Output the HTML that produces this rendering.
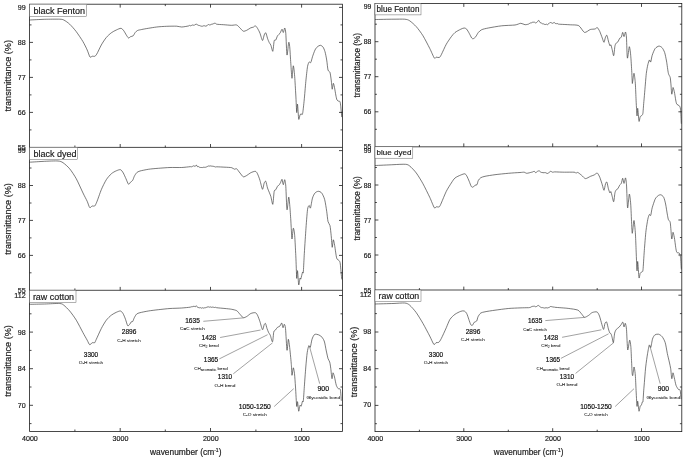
<!DOCTYPE html>
<html lang="en"><head><meta charset="utf-8"><title>FTIR spectra</title>
<style>html,body{margin:0;padding:0;background:#fff}body{width:685px;height:462px;overflow:hidden}svg{display:block}text{font-family:"Liberation Sans",Arial,sans-serif;fill:#1a1a1a;stroke:#1a1a1a;stroke-width:.18px}.ax{stroke:#1c1c1c;stroke-width:.8;fill:none;shape-rendering:auto}.tk{stroke:#1c1c1c;stroke-width:.8;fill:none}.cv{stroke:#333;stroke-width:.65;fill:none;stroke-linejoin:round;stroke-linecap:round}.ln{stroke:#444;stroke-width:.5;fill:none}.tl{font-size:7.1px}.lb{font-size:9px}.at{font-size:8.8px}.an{font-size:7.3px;fill:#111;stroke:#111;stroke-width:.2px}.as{font-size:4.3px;fill:#222;stroke:#222;stroke-width:.06px}</style></head><body>
<svg width="685" height="462" viewBox="0 0 685 462">
<rect width="685" height="462" fill="#fff"/>
<path class="cv" d="M29.7 20.0C31.6 19.9 40.8 19.4 44.7 19.3C48.6 19.2 57.2 19.1 59.7 19.2C62.2 19.3 62.5 19.4 63.8 20.0C65.1 20.6 68.1 22.7 69.7 24.2C71.3 25.7 74.6 29.4 76.3 31.7C78.0 34.0 81.6 39.3 83.0 41.7C84.4 44.1 86.3 48.0 87.2 50.0C88.1 52.0 89.3 56.2 90.0 57.0C90.7 57.8 91.6 56.3 92.2 56.2C92.8 56.1 94.1 56.6 94.7 56.3C95.3 56.0 95.8 55.7 96.7 54.2C97.6 52.7 100.1 47.2 101.3 45.0C102.5 42.8 105.0 39.1 106.3 37.5C107.6 35.9 110.0 33.8 111.3 32.8C112.6 31.8 115.0 30.6 116.3 30.0C117.6 29.4 120.0 28.2 121.0 28.3C122.0 28.4 123.1 29.9 123.8 30.8C124.5 31.7 125.7 34.1 126.3 35.0C126.9 35.9 128.0 37.8 128.5 38.0C129.0 38.2 129.9 37.0 130.5 36.7C131.1 36.4 132.6 36.3 133.2 35.8C133.8 35.3 134.6 33.2 135.2 32.5C135.8 31.8 136.7 30.9 137.5 30.5C138.3 30.1 140.3 29.8 141.7 29.5C143.1 29.2 146.4 28.6 148.3 28.3C150.2 28.0 154.3 27.3 156.7 27.0C159.1 26.7 164.1 26.4 166.7 26.3C169.3 26.2 174.8 26.1 176.7 26.2C178.6 26.3 180.2 27.0 181.7 27.0C183.2 27.0 187.3 26.2 188.3 26.0C189.3 25.8 189.1 25.4 189.4 25.4C189.6 25.4 190.1 25.8 190.4 25.8C190.7 25.8 191.2 25.6 191.4 25.5C191.7 25.4 192.1 25.0 192.5 25.0C192.9 25.0 193.8 25.4 194.2 25.3C194.6 25.2 195.0 24.7 195.2 24.5C195.5 24.4 196.0 24.2 196.3 24.2C196.6 24.2 197.0 24.6 197.3 24.7C197.6 24.9 198.0 25.2 198.3 25.3C198.6 25.4 199.1 25.4 199.4 25.5C199.6 25.6 200.1 25.8 200.4 25.9C200.7 26.0 201.2 26.2 201.4 26.2C201.7 26.3 202.2 26.3 202.5 26.2C202.8 26.1 203.3 25.9 203.6 25.8C203.9 25.8 204.4 25.7 204.7 25.8C205.0 25.8 205.5 26.2 205.8 26.2C206.1 26.2 206.6 25.9 206.9 25.7C207.2 25.4 207.7 24.6 208.0 24.5C208.3 24.4 208.7 24.6 209.0 24.7C209.3 24.8 209.6 25.1 210.0 25.0C210.4 24.9 211.3 24.3 211.7 24.2C212.1 24.1 212.6 24.1 212.9 24.0C213.3 23.9 213.9 23.4 214.2 23.3C214.5 23.2 215.1 23.2 215.4 23.3C215.8 23.4 215.7 24.0 216.7 24.2C217.7 24.4 221.4 24.6 223.3 24.7C225.2 24.8 230.0 25.3 231.7 25.3C233.4 25.3 235.6 24.6 236.7 25.0C237.8 25.4 239.1 27.2 240.0 28.0C240.9 28.8 242.4 30.9 243.3 31.2C244.2 31.5 245.7 30.7 246.7 30.3C247.7 29.9 249.9 28.2 250.8 27.8C251.7 27.4 252.7 27.5 253.3 27.2C253.9 26.9 254.8 25.7 255.3 25.8C255.8 25.9 256.9 27.3 257.5 28.3C258.1 29.3 259.4 31.7 260.0 33.3C260.6 34.9 262.0 40.3 262.5 40.5C263.0 40.7 263.8 36.0 264.2 35.0C264.6 34.0 265.4 32.4 265.8 32.8C266.2 33.2 267.1 37.0 267.5 38.3C267.9 39.6 268.8 41.6 269.2 42.5C269.6 43.4 270.3 43.9 270.8 45.0C271.3 46.1 272.4 51.8 272.8 51.3C273.2 50.8 273.8 42.3 274.2 40.8C274.6 39.3 275.4 40.6 275.8 40.0C276.2 39.4 277.0 36.7 277.5 35.8C278.0 34.9 279.4 34.2 280.0 33.3C280.6 32.4 281.6 29.3 282.0 29.2C282.4 29.1 282.9 32.7 283.3 32.5C283.7 32.3 284.4 27.9 284.7 28.0C285.0 28.1 285.5 29.8 285.8 33.3C286.1 36.8 286.6 53.8 287.0 55.0C287.4 56.2 288.3 43.6 288.7 42.5C289.1 41.4 289.4 44.0 289.7 46.7C290.0 49.4 290.5 59.2 290.8 63.3C291.1 67.4 291.7 78.0 292.0 78.3C292.3 78.6 292.9 66.0 293.3 65.8C293.7 65.6 294.4 72.9 294.7 76.7C295.0 80.5 295.5 90.3 295.8 95.0C296.1 99.7 296.5 111.3 296.7 112.5C296.9 113.7 297.2 103.3 297.5 104.2C297.8 105.1 298.4 117.8 298.7 119.2C299.0 120.6 299.7 115.7 300.0 115.0C300.3 114.3 300.9 113.7 301.2 113.7C301.5 113.7 301.8 114.9 302.0 114.7C302.2 114.5 302.5 114.4 302.8 112.5C303.1 110.6 303.8 104.0 304.2 100.0C304.6 96.0 305.4 86.0 305.8 81.7C306.2 77.4 307.1 69.3 307.5 66.7C307.9 64.1 308.8 62.5 309.2 62.0C309.6 61.5 310.4 63.2 310.8 62.5C311.2 61.8 312.0 58.3 312.5 56.7C313.0 55.1 314.4 51.3 315.0 50.0C315.6 48.7 316.8 47.3 317.5 46.7C318.2 46.1 319.6 45.3 320.3 45.3C321.0 45.3 322.4 46.2 323.0 47.0C323.6 47.8 324.5 50.0 325.0 51.7C325.5 53.4 326.3 57.6 326.7 60.0C327.1 62.4 327.6 68.4 328.0 70.0C328.4 71.6 329.6 71.2 330.0 72.5C330.4 73.8 330.9 77.8 331.2 80.0C331.5 82.2 331.9 88.8 332.2 89.2C332.5 89.6 333.0 83.5 333.3 83.3C333.6 83.1 334.2 86.0 334.5 87.5C334.8 89.0 335.5 93.4 335.8 95.0C336.1 96.6 336.6 99.2 337.0 100.0C337.4 100.8 338.3 101.0 338.7 101.2C339.1 101.4 339.7 101.0 340.0 101.7C340.3 102.4 340.6 104.8 340.8 106.7C341.0 108.7 341.6 115.4 341.7 116.7"/>
<path class="cv" d="M29.7 162.2C31.6 162.1 41.0 161.5 44.7 161.3C48.4 161.1 55.6 160.8 58.0 161.0C60.4 161.2 61.5 161.7 63.0 162.7C64.5 163.7 68.0 166.7 69.7 168.8C71.4 170.9 74.6 175.7 76.3 178.8C78.0 181.9 81.6 190.1 83.0 193.0C84.4 195.9 86.3 199.4 87.2 201.3C88.1 203.2 89.0 206.9 89.7 207.5C90.4 208.1 91.5 206.2 92.2 206.0C92.9 205.8 94.1 206.5 94.7 206.0C95.3 205.5 95.8 204.3 96.7 202.2C97.6 200.1 100.1 192.6 101.3 189.7C102.5 186.8 105.0 181.8 106.3 179.7C107.6 177.6 110.0 175.0 111.3 173.8C112.6 172.6 115.1 171.3 116.3 170.8C117.5 170.3 119.6 169.4 120.5 169.7C121.4 170.0 122.6 171.8 123.3 173.0C124.0 174.2 125.3 177.3 126.0 178.8C126.7 180.3 127.9 183.8 128.5 184.2C129.1 184.6 130.0 182.7 130.5 182.2C131.0 181.7 132.2 181.1 132.7 180.3C133.2 179.5 133.8 177.3 134.3 176.3C134.8 175.3 136.0 173.4 136.7 172.7C137.4 172.0 138.5 171.4 140.0 171.0C141.5 170.6 145.9 169.7 148.3 169.3C150.7 168.9 155.5 168.5 158.3 168.3C161.1 168.1 167.0 167.6 170.0 167.5C173.0 167.4 179.1 167.6 181.7 167.5C184.3 167.4 188.8 166.8 190.0 166.7C191.1 166.6 190.8 166.8 191.1 166.8C191.3 166.8 191.8 166.8 192.1 166.7C192.4 166.5 192.9 166.0 193.1 165.9C193.4 165.8 193.9 165.9 194.2 166.0C194.5 166.1 195.0 166.4 195.3 166.3C195.6 166.2 196.0 164.9 196.3 165.0C196.6 165.1 197.2 166.5 197.5 166.7C197.8 166.9 198.3 166.5 198.6 166.6C198.8 166.7 199.3 167.2 199.6 167.3C199.9 167.4 200.4 167.4 200.6 167.5C200.9 167.5 201.4 167.5 201.7 167.5C202.0 167.5 202.5 167.6 202.7 167.5C203.0 167.5 203.5 167.2 203.8 167.2C204.0 167.2 204.5 167.4 204.8 167.3C205.0 167.3 205.5 167.3 205.8 167.2C206.1 167.1 206.7 166.8 207.1 166.7C207.4 166.5 208.0 166.1 208.3 166.0C208.6 165.9 209.0 166.1 209.3 166.1C209.6 166.1 210.0 165.9 210.3 165.9C210.6 165.9 211.0 166.1 211.3 166.1C211.6 166.2 212.0 166.1 212.3 166.2C212.6 166.2 213.0 166.2 213.3 166.3C213.6 166.4 214.1 166.5 214.4 166.6C214.7 166.7 215.3 167.0 215.6 167.0C215.9 167.0 215.6 166.8 216.7 166.8C217.9 166.8 223.1 167.1 225.0 167.2C226.9 167.3 230.5 167.4 231.7 167.7C232.9 168.0 233.8 169.1 234.5 169.2C235.2 169.3 236.0 168.3 236.7 168.8C237.4 169.3 239.1 172.0 240.0 173.0C240.9 174.0 242.4 176.5 243.3 176.8C244.2 177.1 245.7 176.0 246.7 175.5C247.7 175.0 249.7 173.2 250.8 172.7C251.9 172.2 254.4 171.2 255.3 171.3C256.2 171.4 256.9 172.6 257.5 173.8C258.1 175.0 259.4 178.5 260.0 180.5C260.6 182.5 262.0 189.0 262.5 189.3C263.0 189.6 263.8 184.0 264.2 183.0C264.6 182.0 265.4 180.7 265.8 181.3C266.2 182.0 267.1 186.6 267.5 188.0C267.9 189.4 268.8 191.1 269.2 192.2C269.6 193.3 270.3 194.7 270.8 196.3C271.3 197.9 272.4 205.0 272.8 204.3C273.2 203.7 273.8 193.2 274.2 191.3C274.6 189.4 275.4 190.3 275.8 189.7C276.2 189.0 277.0 187.1 277.5 186.3C278.0 185.5 279.4 184.7 280.0 183.8C280.6 182.9 281.6 179.2 282.0 179.3C282.4 179.4 282.9 184.6 283.3 184.7C283.7 184.8 284.4 179.5 284.7 179.7C285.0 179.9 285.5 182.4 285.8 186.3C286.1 190.2 286.6 208.3 287.0 209.7C287.4 211.1 288.3 197.8 288.7 197.2C289.1 196.5 289.4 201.7 289.7 204.7C290.0 207.7 290.6 217.1 290.8 220.0C291.0 222.9 291.0 224.8 291.2 227.3C291.4 229.8 291.7 238.9 292.0 239.0C292.3 239.1 292.9 228.6 293.3 228.2C293.7 227.8 294.4 232.1 294.7 235.7C295.0 239.3 295.5 250.2 295.8 255.7C296.1 261.2 296.5 276.2 296.7 278.2C296.9 280.1 297.2 269.8 297.5 270.7C297.8 271.6 298.4 283.8 298.7 284.8C299.0 285.8 299.7 279.0 300.0 278.2C300.3 277.4 300.5 279.8 300.8 279.0C301.1 278.2 302.2 273.2 302.5 272.3C302.8 271.4 303.1 274.5 303.3 272.3C303.5 270.1 303.9 261.1 304.2 255.7C304.5 250.3 305.4 236.7 305.8 230.7C306.2 224.7 307.1 213.0 307.5 209.7C307.9 206.4 308.8 205.7 309.2 205.5C309.6 205.3 310.1 209.0 310.5 208.0C310.9 207.0 311.9 199.9 312.5 198.0C313.1 196.1 314.2 193.9 315.0 193.0C315.8 192.1 317.4 191.3 318.3 191.3C319.2 191.3 320.9 191.9 321.7 193.0C322.5 194.1 324.1 197.3 324.7 199.7C325.3 202.1 326.3 208.5 326.7 211.3C327.1 214.1 327.6 219.6 328.0 221.5C328.4 223.4 329.6 223.9 330.0 225.7C330.4 227.5 330.9 232.9 331.2 235.7C331.5 238.5 331.9 246.8 332.2 247.3C332.5 247.8 333.0 240.0 333.3 239.8C333.6 239.6 334.3 243.3 334.7 245.7C335.1 248.1 336.1 256.2 336.7 258.2C337.3 260.1 338.7 259.9 339.2 260.7C339.7 261.5 340.0 261.6 340.3 264.0C340.6 266.4 341.5 277.1 341.7 279.0"/>
<path class="cv" d="M29.7 304.3C31.6 304.3 40.8 304.1 44.7 304.0C48.6 303.9 57.2 303.3 59.7 303.5C62.2 303.7 62.5 304.2 63.8 305.2C65.1 306.2 68.1 309.1 69.7 311.0C71.3 312.9 74.6 317.4 76.3 320.2C78.0 323.0 81.6 330.1 83.0 332.7C84.4 335.3 86.3 338.6 87.2 340.2C88.1 341.8 89.0 344.4 89.7 344.7C90.4 345.0 91.5 343.0 92.2 342.7C92.9 342.4 94.2 343.1 94.7 342.7C95.2 342.3 95.4 341.1 96.3 339.3C97.2 337.5 100.0 331.0 101.3 328.5C102.6 326.0 105.0 321.9 106.3 320.2C107.6 318.5 110.0 316.2 111.3 315.2C112.6 314.2 115.1 312.8 116.3 312.3C117.5 311.8 119.6 310.8 120.5 311.0C121.4 311.2 122.3 312.4 123.0 313.5C123.7 314.6 124.9 317.7 125.5 319.3C126.1 320.9 127.2 325.1 127.7 325.7C128.2 326.3 129.2 324.8 129.7 324.3C130.2 323.8 130.9 322.2 131.3 321.8C131.7 321.4 132.3 322.0 132.7 321.5C133.1 321.0 133.8 318.7 134.3 317.7C134.8 316.7 136.0 314.6 136.7 314.0C137.4 313.4 138.5 313.1 140.0 312.7C141.5 312.3 145.9 311.4 148.3 311.0C150.7 310.6 155.5 310.0 158.3 309.7C161.1 309.4 167.0 308.7 170.0 308.5C173.0 308.3 179.1 308.2 181.7 308.0C184.3 307.8 188.8 307.4 190.0 307.2C191.1 307.0 190.8 306.8 191.1 306.8C191.3 306.7 191.8 306.8 192.1 306.8C192.4 306.7 192.9 306.5 193.1 306.4C193.4 306.4 193.9 306.3 194.2 306.3C194.5 306.3 195.0 306.9 195.3 306.8C195.6 306.7 196.0 305.6 196.3 305.7C196.6 305.8 197.2 307.1 197.5 307.3C197.8 307.5 198.3 307.5 198.6 307.6C198.8 307.7 199.3 307.8 199.6 307.8C199.9 307.8 200.4 307.6 200.6 307.7C200.9 307.7 201.4 308.2 201.7 308.2C202.0 308.2 202.5 307.7 202.7 307.7C203.0 307.7 203.5 308.2 203.8 308.2C204.0 308.2 204.5 307.7 204.8 307.7C205.0 307.6 205.5 307.8 205.8 307.7C206.1 307.6 206.7 307.2 207.1 307.1C207.4 306.9 208.0 306.8 208.3 306.8C208.6 306.8 209.0 307.2 209.3 307.2C209.6 307.2 210.0 306.9 210.3 306.9C210.6 306.9 211.0 307.3 211.3 307.3C211.6 307.3 212.0 307.1 212.3 307.1C212.6 307.1 213.0 307.2 213.3 307.2C213.6 307.2 214.1 307.5 214.4 307.5C214.7 307.5 215.3 307.3 215.6 307.3C215.9 307.3 215.6 307.5 216.7 307.7C217.9 307.9 223.1 308.3 225.0 308.5C226.9 308.7 230.2 309.0 231.7 309.3C233.2 309.6 235.6 310.1 236.7 310.7C237.8 311.3 239.1 313.4 240.0 314.3C240.9 315.2 242.4 317.4 243.3 317.7C244.2 318.0 245.7 317.0 246.7 316.5C247.7 316.0 249.7 314.0 250.8 313.5C251.9 313.0 254.4 312.5 255.3 312.7C256.2 312.9 256.9 314.0 257.5 315.2C258.1 316.4 259.4 319.9 260.0 321.8C260.6 323.7 262.0 329.3 262.5 329.7C263.0 330.1 263.8 325.5 264.2 324.7C264.6 323.9 265.1 323.0 265.5 323.5C265.9 324.0 266.6 327.3 267.0 328.5C267.4 329.7 268.3 331.8 268.7 332.7C269.1 333.6 269.8 334.0 270.3 335.2C270.8 336.4 272.0 342.2 272.5 341.8C273.0 341.4 273.4 333.3 273.8 331.8C274.2 330.3 274.8 330.8 275.3 330.2C275.8 329.6 276.9 327.8 277.5 327.3C278.1 326.8 279.5 326.6 280.0 326.0C280.5 325.4 281.3 322.8 281.7 323.0C282.1 323.2 282.7 327.5 283.0 327.7C283.3 327.9 284.0 324.2 284.3 324.3C284.6 324.4 285.1 325.1 285.5 328.5C285.9 331.9 286.6 348.8 287.0 350.2C287.4 351.6 288.0 339.8 288.3 339.3C288.6 338.8 289.1 342.9 289.5 346.0C289.9 349.1 291.0 360.5 291.2 363.0C291.4 365.5 291.3 363.7 291.4 365.3C291.5 366.9 291.8 375.0 292.0 375.3C292.2 375.6 293.0 368.0 293.3 367.8C293.6 367.6 294.2 371.2 294.5 373.7C294.8 376.2 295.2 382.8 295.5 387.0C295.8 391.2 296.4 404.3 296.7 406.2C297.0 408.1 297.2 401.1 297.5 401.7C297.8 402.3 298.4 410.7 298.7 411.2C299.0 411.7 299.7 405.9 300.0 405.3C300.3 404.7 300.9 406.7 301.2 406.2C301.5 405.7 302.2 401.8 302.5 401.2C302.8 400.6 303.1 402.8 303.3 401.2C303.5 399.6 303.9 393.1 304.2 388.7C304.5 384.3 305.4 371.7 305.8 367.0C306.2 362.3 306.8 355.5 307.2 352.7C307.6 349.9 308.4 346.4 308.8 345.7C309.2 345.0 309.9 348.1 310.3 347.3C310.7 346.5 311.5 340.9 312.0 339.3C312.5 337.7 313.6 335.4 314.2 334.8C314.8 334.2 315.8 334.1 316.7 334.3C317.6 334.5 319.8 335.1 320.8 336.0C321.8 336.9 323.5 339.1 324.2 341.0C324.9 342.9 325.8 348.7 326.3 351.0C326.8 353.3 327.6 357.1 328.0 358.5C328.4 359.9 329.3 360.7 329.7 362.0C330.1 363.3 330.5 366.5 330.8 368.7C331.1 370.9 331.7 378.2 332.0 378.7C332.3 379.2 332.7 373.0 333.0 372.8C333.3 372.6 334.1 375.4 334.5 377.0C334.9 378.6 335.8 383.8 336.3 385.3C336.8 386.8 337.8 388.2 338.3 388.7C338.8 389.2 339.9 388.0 340.3 389.5C340.7 391.0 341.2 398.9 341.3 400.3"/>
<rect class="ax" x="29.6" y="4.2" width="312.8" height="427.2"/>
<path class="tk" d="M29.6 7.4h3.4 M342.4 7.4h-3.4 M29.6 42.4h3.4 M342.4 42.4h-3.4 M29.6 77.4h3.4 M342.4 77.4h-3.4 M29.6 112.4h3.4 M342.4 112.4h-3.4 M29.6 24.9h1.9 M342.4 24.9h-1.9 M29.6 59.9h1.9 M342.4 59.9h-1.9 M29.6 94.9h1.9 M342.4 94.9h-1.9 M29.6 129.9h1.9 M342.4 129.9h-1.9 M120.2 147.4v-3.4 M120.2 4.2v3.4 M210.5 147.4v-3.4 M210.5 4.2v3.4 M301.6 147.4v-3.4 M301.6 4.2v3.4 M74.9 147.4v-1.9 M74.9 4.2v1.9 M165.3 147.4v-1.9 M165.3 4.2v1.9 M255.9 147.4v-1.9 M255.9 4.2v1.9"/>
<text class="tl" style="font-size:7.10px" x="25.6" y="9.9" text-anchor="end">99</text>
<text class="tl" style="font-size:7.10px" x="25.6" y="44.9" text-anchor="end">88</text>
<text class="tl" style="font-size:7.10px" x="25.6" y="79.9" text-anchor="end">77</text>
<text class="tl" style="font-size:7.10px" x="25.6" y="114.9" text-anchor="end">66</text>
<text class="tl" style="font-size:7.10px" x="25.6" y="150.0" text-anchor="end">55</text>
<text class="at" style="font-size:9.10px" transform="translate(10.7 75.8) rotate(-90)" text-anchor="middle" textLength="71.6" lengthAdjust="spacingAndGlyphs">transmittance (%)</text>
<rect x="29.6" y="4.2" width="57.1" height="12.3" fill="#fff" stroke="#555" stroke-width=".45"/>
<text class="lb" style="font-size:9.00px" x="33.5" y="13.6" textLength="51.6" lengthAdjust="spacingAndGlyphs">black Fenton</text>
<path class="ax" d="M29.6 147.4H342.4"/>
<path class="tk" d="M29.6 150.6h3.4 M342.4 150.6h-3.4 M29.6 185.5h3.4 M342.4 185.5h-3.4 M29.6 220.4h3.4 M342.4 220.4h-3.4 M29.6 255.4h3.4 M342.4 255.4h-3.4 M29.6 168.0h1.9 M342.4 168.0h-1.9 M29.6 203.0h1.9 M342.4 203.0h-1.9 M29.6 237.9h1.9 M342.4 237.9h-1.9 M29.6 272.8h1.9 M342.4 272.8h-1.9 M120.2 290.3v-3.4 M210.5 290.3v-3.4 M301.6 290.3v-3.4 M74.9 290.3v-1.9 M165.3 290.3v-1.9 M255.9 290.3v-1.9"/>
<text class="tl" style="font-size:7.10px" x="25.6" y="153.1" text-anchor="end">99</text>
<text class="tl" style="font-size:7.10px" x="25.6" y="188.1" text-anchor="end">88</text>
<text class="tl" style="font-size:7.10px" x="25.6" y="223.0" text-anchor="end">77</text>
<text class="tl" style="font-size:7.10px" x="25.6" y="257.9" text-anchor="end">66</text>
<text class="tl" style="font-size:7.10px" x="25.6" y="292.9" text-anchor="end">55</text>
<text class="at" style="font-size:9.10px" transform="translate(10.7 218.9) rotate(-90)" text-anchor="middle" textLength="71.6" lengthAdjust="spacingAndGlyphs">transmittance (%)</text>
<rect x="29.6" y="147.4" width="47.9" height="12.3" fill="#fff" stroke="#555" stroke-width=".45"/>
<text class="lb" style="font-size:9.00px" x="33.5" y="156.8" textLength="42.9" lengthAdjust="spacingAndGlyphs">black dyed</text>
<path class="ax" d="M29.6 290.3H342.4"/>
<path class="tk" d="M29.6 295.5h3.4 M342.4 295.5h-3.4 M29.6 332.1h3.4 M342.4 332.1h-3.4 M29.6 368.7h3.4 M342.4 368.7h-3.4 M29.6 405.3h3.4 M342.4 405.3h-3.4 M29.6 313.8h1.9 M342.4 313.8h-1.9 M29.6 350.4h1.9 M342.4 350.4h-1.9 M29.6 387.0h1.9 M342.4 387.0h-1.9 M29.6 423.6h1.9 M342.4 423.6h-1.9 M120.2 431.4v-3.4 M210.5 431.4v-3.4 M301.6 431.4v-3.4 M74.9 431.4v-1.9 M165.3 431.4v-1.9 M255.9 431.4v-1.9"/>
<text class="tl" style="font-size:7.10px" x="25.6" y="298.1" text-anchor="end">112</text>
<text class="tl" style="font-size:7.10px" x="25.6" y="334.7" text-anchor="end">98</text>
<text class="tl" style="font-size:7.10px" x="25.6" y="371.2" text-anchor="end">84</text>
<text class="tl" style="font-size:7.10px" x="25.6" y="407.8" text-anchor="end">70</text>
<text class="at" style="font-size:9.10px" transform="translate(10.7 360.9) rotate(-90)" text-anchor="middle" textLength="71.6" lengthAdjust="spacingAndGlyphs">transmittance (%)</text>
<rect x="29.6" y="290.3" width="46.4" height="12.3" fill="#fff" stroke="#555" stroke-width=".45"/>
<text class="lb" style="font-size:9.00px" x="32.9" y="299.7" textLength="41.2" lengthAdjust="spacingAndGlyphs">raw cotton</text>
<text class="tl" x="29.9" y="440.7" text-anchor="middle">4000</text>
<text class="tl" x="120.5" y="440.7" text-anchor="middle">3000</text>
<text class="tl" x="210.8" y="440.7" text-anchor="middle">2000</text>
<text class="tl" x="301.9" y="440.7" text-anchor="middle">1000</text>
<text class="at" style="font-size:8.4px" x="185.7" y="455.0" text-anchor="middle" textLength="71.5" lengthAdjust="spacingAndGlyphs">wavenumber (cm<tspan dy="-3.3" font-size="5">-1</tspan><tspan dy="3.3">)</tspan></text>
<path class="cv" d="M375.5 19.5C377.8 19.5 389.2 19.2 393.0 19.2C396.8 19.2 402.5 19.0 404.7 19.2C406.9 19.4 408.2 19.8 409.7 20.8C411.2 21.8 414.6 24.8 416.3 26.7C418.0 28.6 421.3 33.0 423.0 35.8C424.7 38.6 428.2 45.4 429.7 48.3C431.2 51.2 433.4 56.8 434.3 58.0C435.2 59.2 435.7 57.3 436.3 57.2C436.9 57.1 438.7 57.8 439.3 57.5C439.9 57.2 440.4 56.4 441.3 54.7C442.2 53.0 445.0 46.5 446.3 44.2C447.6 41.9 450.2 38.2 451.3 36.7C452.4 35.2 453.8 33.5 455.0 32.5C456.2 31.5 459.6 29.8 460.8 29.2C462.0 28.6 463.4 28.0 464.2 28.0C465.0 28.0 466.1 28.5 466.7 29.2C467.3 29.9 468.6 32.2 469.2 33.3C469.8 34.4 471.2 37.3 471.7 38.0C472.2 38.7 472.8 38.9 473.3 38.7C473.8 38.5 475.2 37.5 475.8 36.7C476.4 35.9 477.5 33.4 478.3 32.5C479.1 31.6 480.4 30.3 481.7 29.7C483.0 29.1 485.7 28.5 488.3 28.0C490.9 27.5 498.2 26.2 501.7 25.8C505.2 25.4 512.5 25.3 515.0 25.0C517.5 24.7 519.5 23.3 520.8 23.3C522.1 23.3 524.0 24.6 525.0 24.7C526.0 24.8 527.7 24.3 528.3 24.2C528.9 24.1 529.0 23.7 529.3 23.6C529.6 23.4 530.0 23.1 530.3 23.0C530.6 23.0 531.0 23.0 531.3 22.9C531.6 22.8 532.0 22.4 532.3 22.3C532.6 22.2 533.0 22.2 533.3 22.2C533.6 22.2 534.2 22.1 534.5 22.2C534.9 22.3 535.4 23.1 535.8 23.0C536.2 22.9 537.1 22.1 537.5 21.7C537.9 21.3 538.4 20.2 538.7 20.3C539.0 20.4 539.7 22.2 540.0 22.5C540.3 22.8 540.8 22.7 541.1 22.8C541.4 23.0 541.9 23.6 542.2 23.7C542.5 23.9 543.0 23.7 543.3 23.8C543.6 23.9 544.1 24.2 544.3 24.3C544.6 24.4 545.1 24.5 545.4 24.5C545.7 24.5 546.2 24.2 546.5 24.2C546.7 24.3 547.2 24.8 547.5 24.7C547.8 24.6 548.4 23.9 548.8 23.6C549.1 23.3 549.7 22.6 550.0 22.5C550.3 22.4 550.9 22.6 551.2 22.7C551.6 22.8 552.1 23.3 552.5 23.3C552.9 23.3 553.8 22.4 554.2 22.5C554.6 22.6 555.5 23.6 555.8 23.7C556.1 23.8 556.5 23.6 556.8 23.6C557.1 23.6 557.5 23.6 557.8 23.7C558.1 23.8 557.8 24.1 558.8 24.2C560.4 24.3 567.7 24.6 570.3 24.8C572.9 25.0 577.0 24.7 578.8 25.7C580.6 26.7 583.0 31.9 584.5 32.4C586.0 32.9 588.9 29.9 590.3 29.5C591.7 29.1 594.1 29.2 595.0 29.0C595.9 28.8 596.7 27.3 597.3 27.6C597.9 27.9 599.1 30.1 599.8 31.5C600.4 32.9 601.8 36.7 602.3 38.1C602.8 39.5 603.6 42.4 604.0 42.3C604.4 42.2 605.1 38.1 605.5 37.2C605.9 36.3 606.5 34.8 606.9 35.3C607.3 35.8 608.0 39.6 608.4 41.0C608.8 42.4 609.6 45.2 609.9 45.7C610.2 46.2 610.6 44.3 610.9 44.8C611.2 45.3 611.8 48.2 612.2 49.6C612.6 51.0 613.3 56.2 613.7 55.7C614.1 55.2 614.6 47.4 615.0 45.7C615.4 44.0 616.0 43.4 616.4 42.9C616.8 42.4 617.5 42.5 617.9 41.9C618.3 41.3 619.4 38.7 619.8 38.1C620.2 37.5 620.9 37.9 621.3 37.2C621.7 36.5 622.3 32.5 622.7 32.4C623.1 32.3 623.6 36.7 624.0 36.6C624.4 36.5 625.2 31.8 625.5 32.0C625.8 32.2 626.3 34.7 626.5 38.1C626.7 41.5 627.0 57.0 627.4 58.1C627.8 59.2 628.9 47.1 629.3 46.7C629.7 46.3 630.4 52.0 630.7 55.3C631.0 58.6 631.6 68.8 631.8 72.4C632.0 76.0 632.2 82.3 632.3 83.3C632.4 84.3 632.7 81.3 632.9 80.0C633.1 78.7 633.7 73.1 634.0 73.3C634.3 73.5 634.9 78.5 635.2 81.7C635.5 85.0 635.8 93.9 636.0 98.3C636.2 102.7 636.8 114.5 637.0 115.8C637.2 117.1 637.4 107.6 637.7 108.3C638.0 109.0 638.7 120.2 639.0 121.3C639.3 122.4 639.9 117.4 640.2 116.7C640.5 116.0 641.0 116.0 641.3 115.8C641.6 115.6 642.1 115.4 642.3 115.0C642.5 114.6 642.8 114.5 643.0 112.5C643.2 110.5 643.6 104.2 644.0 100.0C644.4 95.8 645.4 83.6 645.7 80.0C646.0 76.4 646.2 74.0 646.5 72.0C646.8 70.0 647.4 66.4 647.8 64.8C648.2 63.2 649.0 60.4 649.4 60.0C649.8 59.6 650.3 62.6 650.7 62.0C651.1 61.4 651.6 57.0 652.2 55.3C652.8 53.6 654.2 49.8 655.1 48.6C656.0 47.4 658.0 46.2 658.9 46.1C659.8 46.0 661.4 46.9 662.1 47.7C662.8 48.5 664.0 50.7 664.6 52.4C665.2 54.1 666.0 58.3 666.5 61.0C667.0 63.7 667.9 71.3 668.4 73.4C668.9 75.5 669.9 76.0 670.2 77.5C670.5 79.0 670.8 82.8 671.0 85.0C671.2 87.2 671.5 93.9 671.8 94.2C672.1 94.5 672.7 87.8 673.0 87.5C673.3 87.2 673.9 90.1 674.3 91.7C674.7 93.3 675.4 98.4 675.7 100.0C676.0 101.6 676.3 103.4 676.8 104.2C677.3 105.0 678.8 105.1 679.3 105.8C679.8 106.5 680.2 106.9 680.5 109.2C680.8 111.5 681.2 121.5 681.3 123.3"/>
<path class="cv" d="M375.5 165.5C377.8 165.4 389.1 164.9 393.0 164.7C396.9 164.5 403.3 164.1 405.5 164.3C407.7 164.5 408.3 164.9 409.7 166.0C411.1 167.1 414.6 170.7 416.3 173.0C418.0 175.3 421.3 180.7 423.0 183.8C424.7 186.9 428.2 194.1 429.7 197.2C431.2 200.3 433.4 206.5 434.3 207.7C435.2 208.9 435.7 206.9 436.3 206.8C436.9 206.7 438.7 207.3 439.3 206.8C439.9 206.3 440.4 205.0 441.3 203.0C442.2 201.0 445.0 193.9 446.3 191.3C447.6 188.7 450.2 184.7 451.3 183.0C452.4 181.3 453.8 179.0 455.0 178.0C456.2 177.0 459.5 175.5 460.8 175.0C462.1 174.5 463.9 173.7 464.7 173.8C465.5 173.9 466.1 174.8 466.7 175.8C467.3 176.8 468.6 179.9 469.2 181.3C469.8 182.7 470.7 185.5 471.2 186.3C471.7 187.1 472.5 187.3 473.0 187.2C473.5 187.1 474.5 185.5 475.0 185.2C475.5 184.9 476.6 185.3 477.0 184.7C477.4 184.1 477.8 181.4 478.3 180.5C478.8 179.6 479.9 178.2 480.8 177.7C481.7 177.2 483.2 176.7 485.0 176.3C486.8 175.9 492.0 175.1 495.0 174.7C498.0 174.3 505.1 173.6 508.3 173.3C511.6 173.0 517.9 172.6 520.0 172.5C522.1 172.4 523.3 172.1 524.2 172.2C525.1 172.3 525.7 173.3 526.7 173.3C527.7 173.3 530.9 172.4 531.7 172.2C532.5 172.0 532.6 172.0 533.0 171.8C533.3 171.7 533.8 171.2 534.2 171.3C534.6 171.4 535.4 172.7 535.8 172.7C536.2 172.7 537.1 171.5 537.5 171.3C537.9 171.1 538.8 170.7 539.2 170.8C539.6 170.9 540.5 172.0 540.8 172.2C541.1 172.4 541.6 172.4 541.8 172.5C542.1 172.5 542.6 172.5 542.9 172.6C543.2 172.6 543.7 172.8 544.0 172.8C544.2 172.8 544.7 172.5 545.0 172.5C545.3 172.5 545.8 172.8 546.1 173.0C546.4 173.1 546.9 173.3 547.2 173.4C547.5 173.4 548.0 173.5 548.3 173.3C548.6 173.1 549.2 172.2 549.5 171.9C549.9 171.7 550.4 171.3 550.8 171.3C551.2 171.3 552.1 172.1 552.5 172.2C552.9 172.3 553.4 172.1 553.8 172.0C554.1 172.0 553.8 171.9 555.0 171.9C556.4 171.9 562.0 172.2 564.5 172.2C567.0 172.2 572.6 172.1 574.1 172.2C575.6 172.3 575.5 173.1 576.0 173.1C576.5 173.1 577.2 172.2 577.9 172.5C578.6 172.8 580.7 174.6 581.7 175.4C582.7 176.2 584.4 178.5 585.5 178.6C586.6 178.7 589.2 176.9 590.3 176.4C591.4 175.9 593.2 175.4 594.1 175.0C595.0 174.6 596.6 172.8 597.3 173.1C598.0 173.4 599.1 175.8 599.8 177.3C600.4 178.8 601.8 183.2 602.3 184.9C602.8 186.6 603.6 190.4 604.0 190.3C604.4 190.2 605.1 185.1 605.5 184.0C605.9 182.9 606.5 181.5 606.9 182.1C607.3 182.7 608.0 187.3 608.4 188.7C608.8 190.1 609.6 192.5 609.9 192.9C610.2 193.3 610.6 191.1 610.9 191.6C611.2 192.1 611.8 195.1 612.2 196.4C612.6 197.7 613.3 202.2 613.7 201.7C614.1 201.2 614.6 194.2 615.0 192.6C615.4 191.0 616.0 190.2 616.4 189.7C616.8 189.2 617.5 189.3 617.9 188.7C618.3 188.1 619.4 185.6 619.8 184.9C620.2 184.2 620.9 184.3 621.3 183.4C621.7 182.5 622.3 178.3 622.7 178.3C623.1 178.3 623.6 183.5 624.0 183.4C624.4 183.3 625.2 177.7 625.5 177.9C625.8 178.1 626.2 181.0 626.5 184.9C626.8 188.8 627.2 206.6 627.6 207.8C628.0 209.0 628.9 194.6 629.3 194.1C629.7 193.6 630.4 200.2 630.7 204.0C631.0 207.8 631.4 219.3 631.6 223.1C631.8 226.9 632.0 232.4 632.2 233.2C632.4 234.0 632.7 230.7 632.9 229.0C633.1 227.3 633.7 220.3 634.0 220.5C634.3 220.7 634.9 227.2 635.2 230.7C635.5 234.2 635.8 242.1 636.0 247.3C636.2 252.5 636.8 268.9 637.0 270.7C637.2 272.5 637.4 260.6 637.7 261.5C638.0 262.4 638.7 276.3 639.0 277.8C639.3 279.3 639.9 273.9 640.2 273.2C640.5 272.5 641.0 272.5 641.3 272.3C641.6 272.1 642.1 271.8 642.3 271.5C642.5 271.2 642.7 272.5 643.0 269.8C643.3 267.1 643.9 255.8 644.3 250.7C644.7 245.6 645.5 234.8 646.0 230.7C646.5 226.6 647.4 221.4 647.8 219.3C648.2 217.2 649.0 215.0 649.4 214.5C649.8 214.0 650.3 216.3 650.7 215.4C651.1 214.5 651.6 209.9 652.2 207.8C652.8 205.7 654.4 200.8 655.1 199.2C655.8 197.6 657.2 196.4 657.9 195.8C658.6 195.2 660.0 194.6 660.8 194.8C661.6 195.0 663.1 196.1 663.7 197.3C664.3 198.5 665.1 201.6 665.6 204.0C666.1 206.4 667.1 213.3 667.5 215.4C667.9 217.5 668.1 218.9 668.5 219.8C668.9 220.7 669.9 220.9 670.2 222.3C670.5 223.7 670.8 228.5 671.0 230.7C671.2 232.9 671.5 238.8 671.8 239.0C672.1 239.2 672.7 232.5 673.0 232.3C673.3 232.1 673.9 235.4 674.3 237.3C674.7 239.2 675.4 245.4 675.7 247.3C676.0 249.2 676.3 251.5 676.8 252.3C677.3 253.1 678.8 252.5 679.3 253.2C679.8 253.8 680.2 255.2 680.5 257.3C680.8 259.4 681.2 267.5 681.3 269.0"/>
<path class="cv" d="M375.5 304.0C377.8 303.9 389.2 303.6 393.0 303.5C396.8 303.4 402.5 302.8 404.7 303.0C406.9 303.2 408.2 303.9 409.7 305.2C411.2 306.5 414.6 310.3 416.3 312.7C418.0 315.1 421.3 320.5 423.0 323.5C424.7 326.5 428.3 333.3 429.7 336.0C431.1 338.7 433.0 343.4 433.8 344.3C434.6 345.2 435.4 343.0 436.0 342.7C436.6 342.4 438.1 342.8 438.8 342.3C439.5 341.8 440.3 340.4 441.3 338.5C442.3 336.6 445.2 330.2 446.3 327.7C447.4 325.2 448.9 321.0 450.0 319.3C451.1 317.6 453.6 315.3 455.0 314.3C456.4 313.3 459.6 311.7 460.8 311.3C462.0 310.9 463.4 310.7 464.2 311.0C465.0 311.3 466.1 312.4 466.7 313.5C467.3 314.6 468.3 317.8 468.8 319.3C469.3 320.8 470.3 323.9 470.8 324.7C471.3 325.5 472.1 325.5 472.5 325.2C472.9 324.9 473.7 322.8 474.2 322.3C474.7 321.8 476.2 321.7 476.7 321.0C477.2 320.3 477.5 317.8 478.0 316.8C478.5 315.8 479.9 313.6 480.8 313.0C481.7 312.4 483.2 312.2 485.0 311.8C486.8 311.4 492.0 310.6 495.0 310.2C498.0 309.8 505.1 308.8 508.3 308.5C511.6 308.2 517.4 308.0 520.0 307.9C522.6 307.8 527.1 307.7 528.3 307.7C529.3 307.7 529.0 307.7 529.3 307.6C529.6 307.6 530.0 307.5 530.3 307.4C530.6 307.3 531.0 307.0 531.3 306.8C531.6 306.7 532.0 306.5 532.3 306.4C532.6 306.3 533.0 306.3 533.3 306.3C533.6 306.3 534.2 306.1 534.5 306.2C534.9 306.3 535.5 306.8 535.8 306.8C536.1 306.8 536.7 306.4 537.0 306.2C537.3 306.0 537.9 305.4 538.2 305.4C538.5 305.4 539.2 306.1 539.5 306.3C539.8 306.6 540.5 307.1 540.8 307.3C541.1 307.5 541.6 307.6 541.8 307.7C542.1 307.7 542.6 307.5 542.9 307.6C543.2 307.6 543.7 308.0 544.0 308.0C544.2 308.1 544.7 308.0 545.0 308.0C545.3 308.0 545.8 307.7 546.1 307.7C546.4 307.7 546.9 308.0 547.2 308.0C547.5 308.0 548.0 307.8 548.3 307.7C548.6 307.6 549.1 307.4 549.4 307.3C549.7 307.1 550.2 306.6 550.5 306.5C550.8 306.4 551.2 306.6 551.4 306.6C551.6 306.6 552.1 306.8 552.3 306.8C552.5 306.9 553.0 307.1 553.2 307.1C553.4 307.1 553.9 306.9 554.1 306.9C554.3 307.0 554.1 307.1 555.0 307.3C556.8 307.5 565.2 308.0 568.2 308.4C571.2 308.8 576.1 309.4 577.8 310.1C579.5 310.8 580.5 312.8 581.4 313.7C582.3 314.6 583.6 317.1 584.5 317.3C585.4 317.5 587.6 316.0 588.6 315.4C589.6 314.8 591.2 312.9 592.3 312.5C593.4 312.1 596.2 311.5 597.1 312.0C598.0 312.5 598.9 314.5 599.5 316.1C600.1 317.7 601.4 322.8 601.9 324.5C602.4 326.2 603.2 329.6 603.6 329.4C604.0 329.2 604.6 324.2 605.0 323.3C605.4 322.4 606.3 321.4 606.7 322.1C607.1 322.8 608.0 327.5 608.4 328.9C608.8 330.3 609.5 332.4 609.8 333.0C610.1 333.6 610.7 333.1 611.0 333.7C611.3 334.3 611.9 336.6 612.2 337.8C612.5 339.0 613.1 343.2 613.4 342.6C613.7 342.0 614.3 334.7 614.7 333.0C615.1 331.3 615.8 330.1 616.3 329.4C616.8 328.7 618.2 328.0 618.8 327.4C619.4 326.8 620.7 325.2 621.2 324.5C621.7 323.8 622.4 321.8 622.8 322.1C623.2 322.4 623.7 326.7 624.0 326.9C624.3 327.1 625.0 323.0 625.3 323.3C625.6 323.6 626.2 326.0 626.5 329.4C626.8 332.8 627.3 348.4 627.7 349.8C628.1 351.2 629.2 340.7 629.6 340.2C630.0 339.7 630.5 343.4 630.8 346.2C631.1 349.0 631.4 358.4 631.6 362.0C631.8 365.6 632.0 372.0 632.2 373.7C632.4 375.4 632.6 376.2 632.8 375.3C633.0 374.4 633.7 367.2 634.0 367.0C634.3 366.8 634.9 370.9 635.2 373.7C635.5 376.5 635.8 384.5 636.0 388.7C636.2 392.9 636.8 404.6 637.0 406.2C637.2 407.8 637.4 400.6 637.7 401.2C638.0 401.8 638.7 410.6 639.0 411.2C639.3 411.8 639.9 407.0 640.2 406.2C640.5 405.4 641.0 405.8 641.3 405.3C641.6 404.8 642.1 402.5 642.3 402.0C642.5 401.5 642.8 403.1 643.0 401.2C643.2 399.2 643.6 391.4 644.0 387.0C644.4 382.6 645.2 371.4 645.7 367.0C646.2 362.6 647.1 356.3 647.6 353.4C648.1 350.5 648.9 345.8 649.3 345.0C649.7 344.2 650.4 348.2 650.8 347.4C651.2 346.6 652.0 340.6 652.5 339.0C653.0 337.4 654.1 335.5 654.9 334.9C655.7 334.3 657.6 334.0 658.5 334.2C659.4 334.4 661.2 335.5 662.1 336.6C663.0 337.7 664.5 340.4 665.2 342.6C665.9 344.8 666.8 350.9 667.3 353.4C667.8 355.9 668.9 360.0 669.3 362.0C669.7 364.0 670.4 366.5 670.7 368.7C671.0 370.9 671.5 378.2 671.8 378.7C672.1 379.2 672.7 372.9 673.0 372.8C673.3 372.7 673.9 376.2 674.3 377.8C674.7 379.4 675.5 383.8 676.0 385.3C676.5 386.8 678.0 388.9 678.5 389.5C679.0 390.1 679.9 389.1 680.2 390.3C680.5 391.5 680.9 397.6 681.0 398.7"/>
<rect class="ax" x="375.0" y="3.5" width="306.8" height="428.1"/>
<path class="tk" d="M375.0 6.7h3.4 M681.8 6.7h-3.4 M375.0 41.7h3.4 M681.8 41.7h-3.4 M375.0 76.7h3.4 M681.8 76.7h-3.4 M375.0 111.8h3.4 M681.8 111.8h-3.4 M375.0 24.2h1.9 M681.8 24.2h-1.9 M375.0 59.2h1.9 M681.8 59.2h-1.9 M375.0 94.3h1.9 M681.8 94.3h-1.9 M375.0 129.3h1.9 M681.8 129.3h-1.9 M463.8 146.8v-3.4 M463.8 3.5v3.4 M552.7 146.8v-3.4 M552.7 3.5v3.4 M641.5 146.8v-3.4 M641.5 3.5v3.4 M419.4 146.8v-1.9 M419.4 3.5v1.9 M508.3 146.8v-1.9 M508.3 3.5v1.9 M597.2 146.8v-1.9 M597.2 3.5v1.9"/>
<text class="tl" style="font-size:6.80px" x="371.3" y="9.2" text-anchor="end">99</text>
<text class="tl" style="font-size:6.80px" x="371.3" y="44.3" text-anchor="end">88</text>
<text class="tl" style="font-size:6.80px" x="371.3" y="79.3" text-anchor="end">77</text>
<text class="tl" style="font-size:6.80px" x="371.3" y="114.3" text-anchor="end">66</text>
<text class="tl" style="font-size:6.80px" x="371.3" y="149.4" text-anchor="end">55</text>
<text class="at" style="font-size:8.18px" transform="translate(360.2 65.2) rotate(-90)" text-anchor="middle" textLength="64.4" lengthAdjust="spacingAndGlyphs">transmittance (%)</text>
<rect x="375.0" y="3.5" width="46.0" height="11.4" fill="#fff" stroke="#555" stroke-width=".45"/>
<text class="lb" style="font-size:8.15px" x="376.6" y="12.1" textLength="42.8" lengthAdjust="spacingAndGlyphs">blue Fenton</text>
<path class="ax" d="M375.0 146.8H681.8"/>
<path class="tk" d="M375.0 150.0h3.4 M681.8 150.0h-3.4 M375.0 185.0h3.4 M681.8 185.0h-3.4 M375.0 220.0h3.4 M681.8 220.0h-3.4 M375.0 255.0h3.4 M681.8 255.0h-3.4 M375.0 167.5h1.9 M681.8 167.5h-1.9 M375.0 202.5h1.9 M681.8 202.5h-1.9 M375.0 237.5h1.9 M681.8 237.5h-1.9 M375.0 272.5h1.9 M681.8 272.5h-1.9 M463.8 290.0v-3.4 M552.7 290.0v-3.4 M641.5 290.0v-3.4 M419.4 290.0v-1.9 M508.3 290.0v-1.9 M597.2 290.0v-1.9"/>
<text class="tl" style="font-size:6.80px" x="371.3" y="152.5" text-anchor="end">99</text>
<text class="tl" style="font-size:6.80px" x="371.3" y="187.5" text-anchor="end">88</text>
<text class="tl" style="font-size:6.80px" x="371.3" y="222.5" text-anchor="end">77</text>
<text class="tl" style="font-size:6.80px" x="371.3" y="257.5" text-anchor="end">66</text>
<text class="tl" style="font-size:6.80px" x="371.3" y="292.6" text-anchor="end">55</text>
<text class="at" style="font-size:8.18px" transform="translate(360.2 208.4) rotate(-90)" text-anchor="middle" textLength="64.4" lengthAdjust="spacingAndGlyphs">transmittance (%)</text>
<rect x="375.0" y="146.8" width="37.8" height="11.4" fill="#fff" stroke="#555" stroke-width=".45"/>
<text class="lb" style="font-size:8.00px" x="376.6" y="155.4" textLength="34.8" lengthAdjust="spacingAndGlyphs">blue dyed</text>
<path class="ax" d="M375.0 290.0H681.8"/>
<path class="tk" d="M375.0 295.2h3.4 M681.8 295.2h-3.4 M375.0 332.0h3.4 M681.8 332.0h-3.4 M375.0 368.7h3.4 M681.8 368.7h-3.4 M375.0 405.4h3.4 M681.8 405.4h-3.4 M375.0 313.6h1.9 M681.8 313.6h-1.9 M375.0 350.3h1.9 M681.8 350.3h-1.9 M375.0 387.0h1.9 M681.8 387.0h-1.9 M375.0 423.7h1.9 M681.8 423.7h-1.9 M463.8 431.6v-3.4 M552.7 431.6v-3.4 M641.5 431.6v-3.4 M419.4 431.6v-1.9 M508.3 431.6v-1.9 M597.2 431.6v-1.9"/>
<text class="tl" style="font-size:7.10px" x="371.2" y="297.2" text-anchor="end">112</text>
<text class="tl" style="font-size:7.10px" x="371.2" y="333.9" text-anchor="end">98</text>
<text class="tl" style="font-size:7.10px" x="371.2" y="370.6" text-anchor="end">84</text>
<text class="tl" style="font-size:7.10px" x="371.2" y="407.3" text-anchor="end">70</text>
<text class="at" style="font-size:8.97px" transform="translate(357.4 362.0) rotate(-90)" text-anchor="middle" textLength="70.6" lengthAdjust="spacingAndGlyphs">transmittance (%)</text>
<rect x="375.0" y="290.0" width="46.0" height="11.4" fill="#fff" stroke="#555" stroke-width=".45"/>
<text class="lb" style="font-size:8.70px" x="378.6" y="298.8" textLength="40.6" lengthAdjust="spacingAndGlyphs">raw cotton</text>
<text class="tl" x="375.3" y="440.9" text-anchor="middle">4000</text>
<text class="tl" x="464.1" y="440.9" text-anchor="middle">3000</text>
<text class="tl" x="553.0" y="440.9" text-anchor="middle">2000</text>
<text class="tl" x="641.8" y="440.9" text-anchor="middle">1000</text>
<text class="at" style="font-size:8.4px" x="528.6" y="455.0" text-anchor="middle" textLength="69.6" lengthAdjust="spacingAndGlyphs">wavenumber (cm<tspan dy="-3.3" font-size="5">-1</tspan><tspan dy="3.3">)</tspan></text>
<text class="an" x="91.0" y="356.8" text-anchor="middle" textLength="14.3" lengthAdjust="spacingAndGlyphs">3300</text>
<text class="as" x="91.0" y="363.6" text-anchor="middle" textLength="24.5" lengthAdjust="spacingAndGlyphs">O-H stretch</text>
<text class="an" x="129.1" y="333.5" text-anchor="middle" textLength="14.6" lengthAdjust="spacingAndGlyphs">2896</text>
<text class="as" x="129.1" y="341.6" text-anchor="middle" textLength="23.8" lengthAdjust="spacingAndGlyphs">C-H stretch</text>
<text class="an" x="192.5" y="322.5" text-anchor="middle" textLength="14.6" lengthAdjust="spacingAndGlyphs">1635</text>
<text class="as" x="192.5" y="330.4" text-anchor="middle" textLength="25.0" lengthAdjust="spacingAndGlyphs">C=C stretch</text>
<text class="an" x="208.9" y="339.9" text-anchor="middle" textLength="14.6" lengthAdjust="spacingAndGlyphs">1428</text>
<text class="as" x="208.9" y="347.0" text-anchor="middle" textLength="20.0" lengthAdjust="spacingAndGlyphs">CH<tspan dy="1" font-size="3.4">2</tspan><tspan dy="-1"> bend</tspan></text>
<text class="an" x="211.0" y="362.2" text-anchor="middle" textLength="14.4" lengthAdjust="spacingAndGlyphs">1365</text>
<text class="as" x="211.0" y="369.7" text-anchor="middle" textLength="33.5" lengthAdjust="spacingAndGlyphs">CH<tspan dy="1" font-size="3.8">aromatic</tspan><tspan dy="-1"> bend</tspan></text>
<text class="an" x="225.0" y="379.2" text-anchor="middle" textLength="14.3" lengthAdjust="spacingAndGlyphs">1310</text>
<text class="as" x="225.0" y="386.6" text-anchor="middle" textLength="20.9" lengthAdjust="spacingAndGlyphs">O-H bend</text>
<text class="an" x="254.8" y="408.8" text-anchor="middle" textLength="32.1" lengthAdjust="spacingAndGlyphs">1050-1250</text>
<text class="as" x="254.8" y="416.2" text-anchor="middle" textLength="24.2" lengthAdjust="spacingAndGlyphs">C-O stretch</text>
<text class="an" x="323.3" y="391.2" text-anchor="middle" textLength="11.6" lengthAdjust="spacingAndGlyphs">900</text>
<text class="as" x="323.3" y="398.6" text-anchor="middle" textLength="33.7" lengthAdjust="spacingAndGlyphs">Glycosidic bond</text>
<path class="ln" d="M203.3 321.3L243.3 317.9"/>
<path class="ln" d="M220.1 337.5L260.6 330.0"/>
<path class="ln" d="M219.3 358.9L267.6 334.7"/>
<path class="ln" d="M233.3 373.8L272.6 342.8"/>
<path class="ln" d="M274.2 406.5L293.7 388.7"/>
<path class="ln" d="M309.5 346.5L319.7 383.7"/>
<text class="an" x="436.0" y="356.8" text-anchor="middle" textLength="14.3" lengthAdjust="spacingAndGlyphs">3300</text>
<text class="as" x="436.0" y="363.6" text-anchor="middle" textLength="24.5" lengthAdjust="spacingAndGlyphs">O-H stretch</text>
<text class="an" x="473.0" y="334.0" text-anchor="middle" textLength="14.6" lengthAdjust="spacingAndGlyphs">2896</text>
<text class="as" x="473.0" y="341.4" text-anchor="middle" textLength="23.8" lengthAdjust="spacingAndGlyphs">C-H stretch</text>
<text class="an" x="535.1" y="323.0" text-anchor="middle" textLength="14.4" lengthAdjust="spacingAndGlyphs">1635</text>
<text class="as" x="535.1" y="330.5" text-anchor="middle" textLength="23.7" lengthAdjust="spacingAndGlyphs">C=C stretch</text>
<text class="an" x="550.9" y="339.9" text-anchor="middle" textLength="14.4" lengthAdjust="spacingAndGlyphs">1428</text>
<text class="as" x="550.9" y="347.1" text-anchor="middle" textLength="19.2" lengthAdjust="spacingAndGlyphs">CH<tspan dy="1" font-size="3.4">2</tspan><tspan dy="-1"> bend</tspan></text>
<text class="an" x="553.0" y="362.0" text-anchor="middle" textLength="14.3" lengthAdjust="spacingAndGlyphs">1365</text>
<text class="as" x="553.0" y="369.5" text-anchor="middle" textLength="33.0" lengthAdjust="spacingAndGlyphs">CH<tspan dy="1" font-size="3.8">aromatic</tspan><tspan dy="-1"> bend</tspan></text>
<text class="an" x="566.9" y="379.3" text-anchor="middle" textLength="14.4" lengthAdjust="spacingAndGlyphs">1310</text>
<text class="as" x="566.9" y="386.4" text-anchor="middle" textLength="21.0" lengthAdjust="spacingAndGlyphs">O-H bend</text>
<text class="an" x="596.0" y="409.0" text-anchor="middle" textLength="31.6" lengthAdjust="spacingAndGlyphs">1050-1250</text>
<text class="as" x="596.0" y="416.4" text-anchor="middle" textLength="23.7" lengthAdjust="spacingAndGlyphs">C-O stretch</text>
<text class="an" x="663.3" y="391.3" text-anchor="middle" textLength="11.3" lengthAdjust="spacingAndGlyphs">900</text>
<text class="as" x="663.3" y="398.6" text-anchor="middle" textLength="33.7" lengthAdjust="spacingAndGlyphs">Glycosidic bond</text>
<path class="ln" d="M545.3 320.6L584.5 317.4"/>
<path class="ln" d="M562.1 337.3L601.4 329.8"/>
<path class="ln" d="M560.9 358.4L608.6 333.8"/>
<path class="ln" d="M575.6 373.4L613.7 342.7"/>
<path class="ln" d="M615.2 406.5L634.0 388.7"/>
<path class="ln" d="M649.9 346.0L660.2 383.7"/>
</svg></body></html>
